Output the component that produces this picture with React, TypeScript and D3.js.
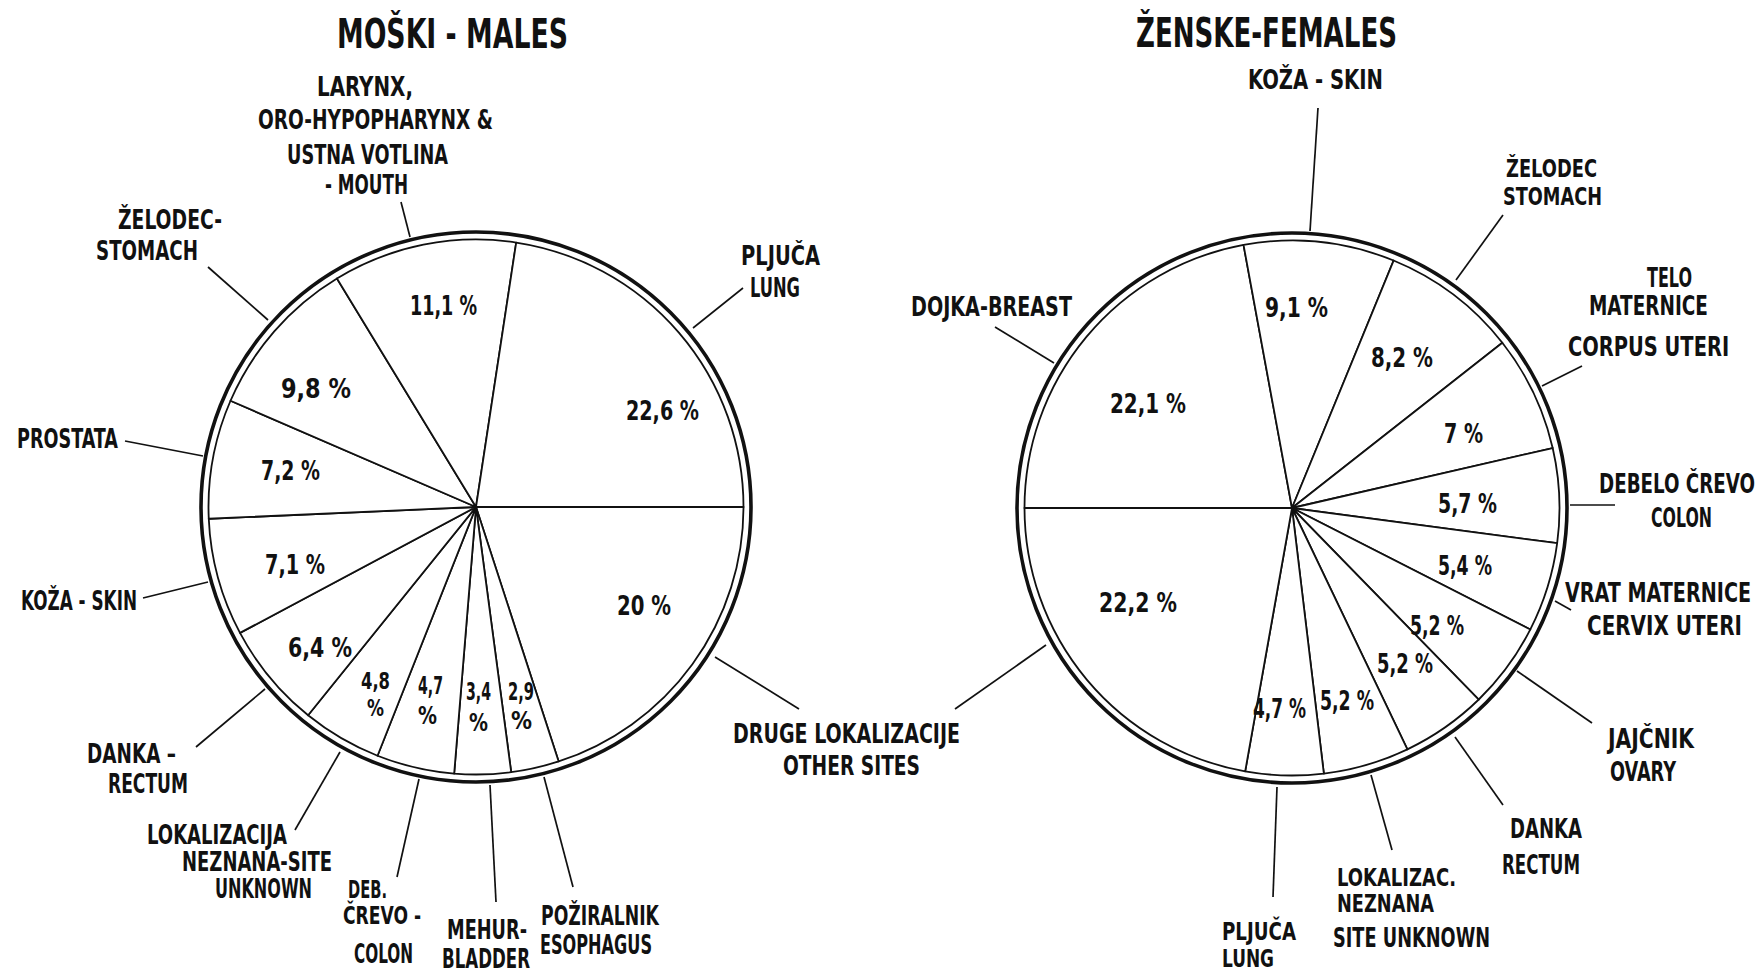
import { useLayoutEffect, useRef } from "react";
import * as d3 from "d3";

// titles of the two pies
const titles = ["MOŠKI - MALES", "ŽENSKE-FEMALES"];

// males, clockwise from 3 o'clock
const maleSites = [
  "DRUGE LOKALIZACIJE\nOTHER SITES",
  "POŽIRALNIK\nESOPHAGUS",
  "MEHUR-\nBLADDER",
  "DEB.\nČREVO -\nCOLON",
  "LOKALIZACIJA\nNEZNANA-SITE\nUNKNOWN",
  "DANKA –\nRECTUM",
  "KOŽA - SKIN",
  "PROSTATA",
  "ŽELODEC-\nSTOMACH",
  "LARYNX,\nORO-HYPOPHARYNX &\nUSTNA VOTLINA\n- MOUTH",
  "PLJUČA\nLUNG",
];
const maleValues = [20, 2.9, 3.4, 4.7, 4.8, 6.4, 7.1, 7.2, 9.8, 11.1, 22.6];

// females, clockwise from 9 o'clock
const femaleSites = [
  "DOJKA-BREAST",
  "KOŽA - SKIN",
  "ŽELODEC\nSTOMACH",
  "TELO\nMATERNICE\nCORPUS UTERI",
  "DEBELO ČREVO\nCOLON",
  "VRAT MATERNICE\nCERVIX UTERI",
  "JAJČNIK\nOVARY",
  "DANKA\nRECTUM",
  "LOKALIZAC.\nNEZNANA\nSITE UNKNOWN",
  "PLJUČA\nLUNG",
  "DRUGE LOKALIZACIJE\nOTHER SITES",
];
const femaleValues = [22.1, 9.1, 8.2, 7, 5.7, 5.4, 5.2, 5.2, 5.2, 4.7, 22.2];

// layout: [x start, x end, baseline, font size?] per text line, leader [x1,y1,x2,y2]
type Line = [number, number, number, number?];
type SliceLayout = { leader: [number, number, number, number]; label: Line[]; pct: Line[] };

const maleLayout: SliceLayout[] = [
  { leader: [715, 657, 799, 709], label: [[733, 960, 743], [783, 920, 775]], pct: [[617, 671, 615]] },
  { leader: [544, 777, 573, 887], label: [[541, 659, 925], [540, 652, 954]], pct: [[508, 534, 700, 25], [511, 532, 729, 25]] },
  { leader: [490, 785, 496, 902], label: [[447, 527, 939], [442, 530, 968]], pct: [[466, 491, 700, 25], [469, 488, 731, 25]] },
  { leader: [419, 779, 397, 877], label: [[348, 387, 898, 25], [343, 421, 924, 25], [354, 413, 963, 26]], pct: [[418, 443, 694, 25], [418, 437, 724, 25]] },
  { leader: [295, 830, 340, 752], label: [[147, 287, 844, 26], [182, 332, 871, 26], [215, 312, 898, 26]], pct: [[361, 390, 689, 23], [367, 384, 716, 23]] },
  { leader: [196, 747, 265, 689], label: [[87, 176, 763], [108, 188, 793]], pct: [[288, 352, 657]] },
  { leader: [143, 598, 208, 582], label: [[21, 137, 610]], pct: [[265, 325, 574]] },
  { leader: [125, 441, 203, 456], label: [[17, 118, 448]], pct: [[261, 320, 480]] },
  { leader: [208, 267, 268, 320], label: [[118, 222, 229], [96, 198, 260]], pct: [[281, 351, 398]] },
  { leader: [401, 202, 410, 237], label: [[317, 413, 96, 26], [258, 493, 129, 26], [287, 448, 164, 26], [325, 408, 194, 26]], pct: [[410, 477, 315]] },
  { leader: [743, 288, 693, 328], label: [[741, 820, 265], [750, 800, 297]], pct: [[626, 699, 420]] },
];

const femaleLayout: SliceLayout[] = [
  { leader: [995, 327, 1054, 363], label: [[911, 1072, 316]], pct: [[1110, 1186, 413]] },
  { leader: [1318, 108, 1310, 231], label: [[1248, 1383, 89]], pct: [[1265, 1328, 317]] },
  { leader: [1503, 215, 1456, 280], label: [[1506, 1597, 177, 24], [1503, 1602, 205, 24]], pct: [[1371, 1433, 367]] },
  { leader: [1582, 366, 1542, 386], label: [[1647, 1692, 287, 26], [1589, 1708, 315, 26], [1568, 1729, 356, 26]], pct: [[1444, 1483, 443]] },
  { leader: [1570, 505, 1615, 505], label: [[1599, 1755, 493], [1651, 1712, 527]], pct: [[1438, 1497, 513]] },
  { leader: [1555, 601, 1571, 610], label: [[1565, 1751, 602], [1587, 1742, 635]], pct: [[1438, 1492, 575]] },
  { leader: [1517, 671, 1592, 723], label: [[1608, 1694, 748], [1610, 1676, 781]], pct: [[1410, 1464, 635]] },
  { leader: [1455, 737, 1503, 805], label: [[1510, 1582, 838], [1502, 1580, 874]], pct: [[1377, 1433, 673]] },
  { leader: [1371, 775, 1392, 850], label: [[1337, 1456, 886, 24], [1337, 1434, 912, 24], [1333, 1490, 947, 26]], pct: [[1320, 1374, 710]] },
  { leader: [1277, 787, 1273, 897], label: [[1222, 1296, 940, 24], [1222, 1274, 967, 24]], pct: [[1253, 1306, 718]] },
  // label shared with the males' "other sites"
  { leader: [1046, 645, 955, 709], label: [], pct: [[1099, 1177, 612]] },
];

const R = 275;
const GAP = 7.5;
const FONT = "'DejaVu Sans Condensed', 'DejaVu Sans', sans-serif";

const pies = [
  { title: titles[0], titleLine: [337, 568, 48, 40] as Line, sites: maleSites, values: maleValues, layout: maleLayout, cx: 476, cy: 507, start: Math.PI / 2 },
  { title: titles[1], titleLine: [1136, 1397, 47, 40] as Line, sites: femaleSites, values: femaleValues, layout: femaleLayout, cx: 1292, cy: 508, start: (3 * Math.PI) / 2 },
];

const pctText = (v: number) => String(v).replace(".", ",");

// text squeezed horizontally to the width it has in the reference
const Txt = ({ line, text }: { line: Line; text: string }) => {
  const ref = useRef<SVGTextElement>(null);
  const [x0, x1, y, size = 27] = line;
  useLayoutEffect(() => {
    const fit = () => {
      const el = ref.current;
      if (!el) return;
      const w = el.getComputedTextLength();
      const sx = w > 0 ? (x1 - x0) / w : 1;
      el.setAttribute("transform", `translate(${x0},${y}) scale(${sx},1)`);
    };
    fit();
    document.fonts?.ready.then(fit);
  });
  return (
    <text ref={ref} x={0} y={0} fontSize={size} transform={`translate(${x0},${y})`}>
      {text}
    </text>
  );
};

const PieBlock = ({ p }: { p: (typeof pies)[number] }) => {
  const pie = d3
    .pie<number>()
    .sort(null)
    .value((d) => d)
    .startAngle(p.start)
    .endAngle(p.start + 2 * Math.PI);
  const arc = d3.arc<d3.PieArcDatum<number>>().innerRadius(0).outerRadius(R - GAP);
  const arcs = pie(p.values);

  return (
    <g>
      <Txt line={p.titleLine} text={p.title} />
      <g transform={`translate(${p.cx},${p.cy})`}>
        {arcs.map((a, i) => (
          <path key={i} d={arc(a) ?? ""} fill="#fff" stroke="#111" strokeWidth={1.8} strokeLinejoin="round" />
        ))}
        <circle r={R} fill="none" stroke="#111" strokeWidth={3.6} />
      </g>
      {arcs.map((a, i) => {
        const lay = p.layout[i];
        const lines = p.sites[i].split("\n");
        const [x1, y1, x2, y2] = lay.leader;
        const num = pctText(a.data);
        const pct = lay.pct.length > 1 ? [num, "%"] : [num + " %"];
        return (
          <g key={i}>
            <line x1={x1} y1={y1} x2={x2} y2={y2} stroke="#111" strokeWidth={1.7} />
            {lay.label.map((l, j) => (
              <Txt key={j} line={l} text={lines[j]} />
            ))}
            {lay.pct.map((l, j) => (
              <Txt key={"p" + j} line={l} text={pct[j]} />
            ))}
          </g>
        );
      })}
    </g>
  );
};

export default function App() {
  return (
    <svg
      width={1761}
      height={973}
      style={{ position: "absolute", left: 0, top: 0, background: "#fff" }}
      fontFamily={FONT}
      fontWeight="bold"
      fill="#111"
    >
      {pies.map((p, i) => (
        <PieBlock key={i} p={p} />
      ))}
    </svg>
  );
}
